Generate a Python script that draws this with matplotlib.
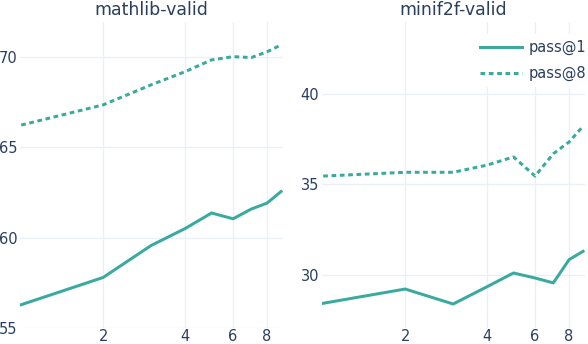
import matplotlib
matplotlib.use("Agg")
import matplotlib.pyplot as plt
from matplotlib.ticker import FixedLocator, NullLocator, FixedFormatter

plt.rcParams['font.family'] = ['DejaVu Sans']
plt.rcParams['lines.scale_dashes'] = False

steps = [1, 2, 3, 4, 5, 6, 7, 8, 9]
mathlib_pass1 = [56.29, 57.8, 59.57, 60.51, 61.37, 61.05, 61.59, 61.92, 62.56]
mathlib_pass8 = [66.24, 67.36, 68.47, 69.2, 69.85, 70.03, 69.98, 70.3, 70.68]
minif2f_pass1 = [28.41, 29.2, 28.37, 29.33, 30.09, 29.81, 29.54, 30.83, 31.29]
minif2f_pass8 = [35.46, 35.67, 35.67, 36.07, 36.52, 35.46, 36.7, 37.35, 38.22]

titles = ["mathlib-valid", "minif2f-valid"]
xticks = [2, 4, 6, 8]
yticks_left = [55, 60, 65, 70]
yticks_right = [30, 35, 40]

W, H = 588, 344
color = '#3aa9a0'
txt = '#2a3f5f'
grid = '#ebf0f8'
lw = 3 * 72 / 100

fig = plt.figure(figsize=(W / 100, H / 100), dpi=100)
ax1 = fig.add_axes([20 / W, (H - 328) / H, 263 / W, 306 / H])
ax2 = fig.add_axes([322 / W, (H - 328) / H, 263 / W, 306 / H])

configs = [
    (ax1, mathlib_pass1, mathlib_pass8, yticks_left, (55, 71.95)),
    (ax2, minif2f_pass1, minif2f_pass8, yticks_right, (27.04, 44.0)),
]
for i, (ax, p1, p8, yt, yl) in enumerate(configs):
    ax.plot(steps, p1, color=color, lw=lw, solid_joinstyle='round', label='pass@1', zorder=3)
    ax.plot(steps, p8, color=color, lw=lw, dashes=(3.4, 2.6), label='pass@8', zorder=3)
    ax.set_xscale('log')
    ax.set_xlim(0.99, 9.15)
    ax.set_ylim(*yl)
    ax.xaxis.set_major_locator(FixedLocator(xticks))
    ax.xaxis.set_major_formatter(FixedFormatter([str(t) for t in xticks]))
    ax.xaxis.set_minor_locator(NullLocator())
    ax.set_yticks(yt)
    ax.set_yticklabels([str(t) for t in yt])
    ax.grid(True, color=grid, lw=1, zorder=0)
    ax.set_axisbelow(True)
    for s in ax.spines.values():
        s.set_visible(False)
    ax.tick_params(axis='both', length=0, labelsize=10.5, colors=txt)
    ax.tick_params(axis='x', pad=1)
    ax.tick_params(axis='y', pad=2)
    ax.set_title(titles[i], fontsize=12.5, color=txt, pad=5)

leg = ax2.legend(loc='upper left', bbox_to_anchor=(0.578, 0.96), frameon=True,
                 fontsize=10.5, handlelength=2.9, handletextpad=0.45,
                 borderaxespad=0.0, labelspacing=0.75, borderpad=0.4)
leg.get_frame().set_facecolor('white')
leg.get_frame().set_edgecolor('none')
leg.get_frame().set_alpha(1)
leg.get_frame().set_boxstyle('square', pad=0)
leg.set_zorder(5)
for t in leg.get_texts():
    t.set_color(txt)

fig.savefig('out.png', dpi=100)
